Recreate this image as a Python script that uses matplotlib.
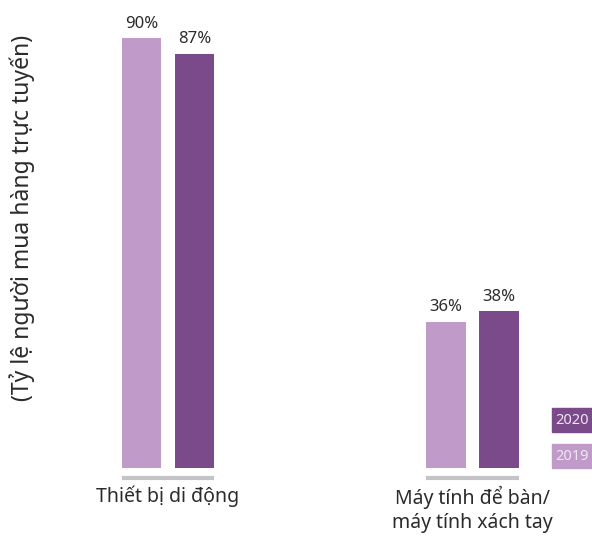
import numpy as np
import matplotlib
matplotlib.use("Agg")
import matplotlib.pyplot as plt
from matplotlib.patches import Rectangle

plt.rcParams['font.family'] = ['Noto Sans', 'DejaVu Sans']

# Data
categories = ["Thiết bị di động", "Máy tính để bàn/\nmáy tính xách tay"]
years = ["2019", "2020"]
values_2019 = [90, 36]
values_2020 = [87, 38]

light = "#c09bc9"
dark = "#7b4a8b"
text_col = "#2b2b2b"

fig = plt.figure(figsize=(5.92, 5.47), dpi=100)
# axes spans full width, from bar baseline (468px) to the top of the figure
ax = fig.add_axes([0, (547 - 468) / 547, 1, 468 / 547])

x = np.arange(len(categories))
width = 0.131
offset = 0.087

b1 = ax.bar(x - offset, values_2019, width, color=light)
b2 = ax.bar(x + offset, values_2020, width, color=dark)

ax.set_xlim(-168 / 304.5, (592 - 168) / 304.5)
ax.set_ylim(8.2, 97.3)

for bars, vals in [(b1, values_2019), (b2, values_2020)]:
    for rect, v in zip(bars, vals):
        ax.text(rect.get_x() + rect.get_width() / 2, v + 1.3, f"{v}%",
                ha="center", va="bottom", fontsize=12, color=text_col)

# gray baseline under each group
for xi in x:
    ax.plot([xi - offset - width / 2, xi + offset + width / 2], [6.3, 6.3],
            color="#c4c4c6", lw=3, solid_capstyle="butt", clip_on=False)
    ax.text(xi, 4.8, categories[xi], ha="center", va="top", fontsize=14,
            color=text_col, linespacing=1.3)

for s in ax.spines.values():
    s.set_visible(False)
ax.set_xticks([])
ax.set_yticks([])

fig.text(22 / 592, 1 - 218 / 547, "(Tỷ lệ người mua hàng trực tuyến)",
         rotation=90, ha="center", va="center", fontsize=16.5, color=text_col)

# legend boxes at right edge
for i, (yr, col) in enumerate([("2020", dark), ("2019", light)]):
    top = 408 + i * 36
    fig.patches.append(Rectangle((552 / 592, 1 - (top + 24) / 547), 50 / 592, 24 / 547,
                                 transform=fig.transFigure, color=col))
    fig.text(555 / 592, 1 - (top + 12) / 547, yr, ha="left", va="center",
             fontsize=10.5, color="#f0e6f2")

fig.savefig("out.png", dpi=100)
